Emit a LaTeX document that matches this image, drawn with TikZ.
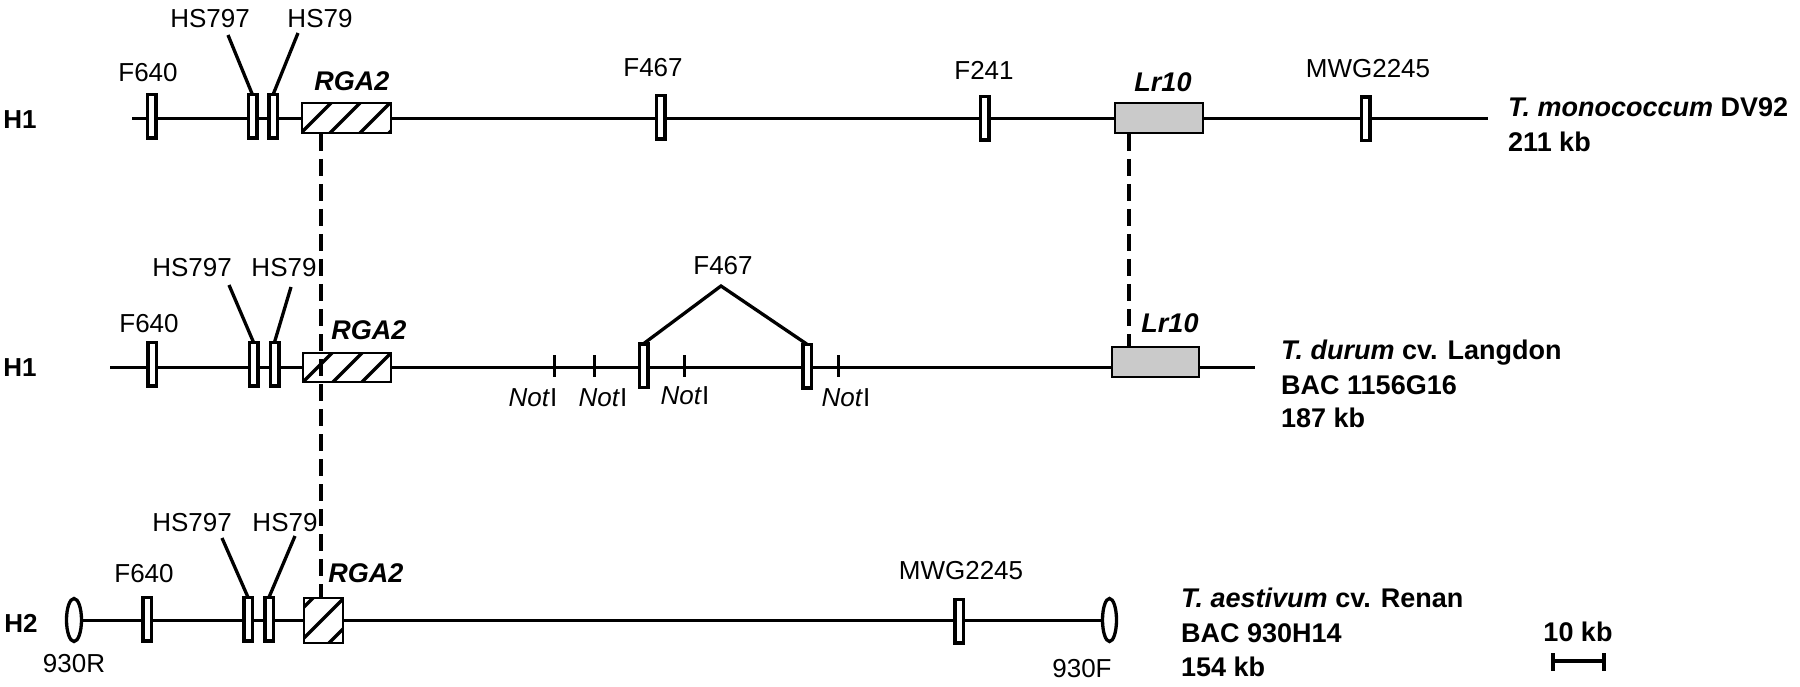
\documentclass[tikz,border=0pt]{standalone}
\usepackage{fontspec}
\setmainfont{Liberation Sans}
\usetikzlibrary{shapes.geometric}
\definecolor{lrgray}{RGB}{202,202,202}
\tikzset{
  chrom/.style={line width=3pt},
  mk/.style={draw, fill=white, line width=3.5pt, minimum width=8.5pt, minimum height=43.5pt, inner sep=0pt, outer sep=0pt},
  gene/.style={draw, line width=1.8pt, inner sep=0pt, outer sep=0pt},
  lbl/.style={font=\fontsize{26}{30}\selectfont, inner sep=0pt, text height=18.6pt, text depth=0pt},
  glbl/.style={font=\fontsize{27}{31}\selectfont\bfseries\itshape, inner sep=0pt, text height=19.3pt, text depth=0pt},
  hlbl/.style={font=\fontsize{26}{30}\selectfont\bfseries, inner sep=0pt, text height=18.6pt, text depth=0pt},
  splbl/.style={font=\fontsize{27}{31}\selectfont\bfseries, inner sep=0pt, anchor=west, text height=19.3pt, text depth=0pt},
  lead/.style={line width=3.3pt},
  notch/.style={line width=3pt},
  dsh/.style={line width=3.3pt, dash pattern=on 17pt off 8pt},
  hatchln/.style={line width=3.3pt},
  endell/.style={draw, ellipse, fill=white, line width=3.3pt, inner sep=0pt, minimum width=15pt, minimum height=43pt},
}
\begin{document}
\begin{tikzpicture}[x=1pt,y=-1pt]
\useasboundingbox (0,0) rectangle (1800,687);

% ================= Row 1 =================
\coordinate (r1s) at (132,119);
\coordinate (r1e) at (1488,119);
\draw[chrom] (r1s) -- (r1e);
\node[mk] (a640) at (151.5,116.5) {};
\node[mk] (a797) at (252.5,116.5) {};
\node[mk] (a79) at (273,116.5) {};
\node[mk] (a467) at (660.5,117.5) {};
\node[mk] (a241) at (984.5,118.5) {};
\node[mk] (amwg) at (1365.5,119) {};
\node[gene, fill=white, minimum width=89.5pt, minimum height=30.5pt] (argA) at (346.5,118) {};
\begin{scope}
  \clip (argA.south west) rectangle (argA.north east);
  \foreach \c in {404,434,463,493,522} {\draw[hatchln] ({\c-140},140) -- ({\c-96},96);}
\end{scope}
\draw[line width=1.8pt] (argA.south west) rectangle (argA.north east);
\node[gene, fill=lrgray, minimum width=88.5pt, minimum height=30.5pt] (alr) at (1159,118) {};

\node[hlbl] (h1a) at (20,119) {H1};
\node[lbl] (tF640a) at (148,72) {F640};
\node[lbl] (tHS797a) at (210,18) {HS797};
\node[lbl] (tHS79a) at (320,18) {HS79};
\node[glbl] (tRGAa) at (352,81) {RGA2};
\node[lbl] (tF467a) at (653,67) {F467};
\node[lbl] (tF241a) at (984,70) {F241};
\node[glbl] (tLra) at (1163,82) {Lr10};
\node[lbl] (tMWGa) at (1368,68) {MWG2245};
\coordinate (l797a) at (228,35);
\coordinate (l79a) at (298,33);
\draw[lead] (a797.north) -- (l797a);
\draw[lead] (a79.north) -- (l79a);
\node[splbl] (spa1) at (1508,107) {\textit{T. monococcum} DV92};
\node[splbl] (spa2) at (1508,142) {211 kb};

% ================= Row 2 =================
\coordinate (r2s) at (110,367);
\coordinate (r2e) at (1255,367);
\draw[chrom] (r2s) -- (r2e);
\foreach \x [count=\i] in {554,594,684,838} {
  \coordinate (nt\i) at (\x,355);
  \coordinate (nb\i) at (\x,377);
  \draw[notch] (nt\i) -- (nb\i);
}
\node[mk] (b640) at (152,364) {};
\node[mk] (b797) at (253.5,364) {};
\node[mk] (b79) at (274.5,364) {};
\node[mk] (b467a) at (643.5,365.5) {};
\node[mk] (b467b) at (807,366) {};
\node[gene, fill=white, minimum width=88.5pt, minimum height=29.5pt] (brg) at (347,367.5) {};
\begin{scope}
  \clip (brg.south west) rectangle (brg.north east);
  \foreach \c in {656,685,715,744,773} {\draw[hatchln] ({\c-390},390) -- ({\c-345},345);}
\end{scope}
\draw[line width=1.8pt] (brg.south west) rectangle (brg.north east);
\node[gene, fill=lrgray, minimum width=87.5pt, minimum height=30.5pt] (blr) at (1155.5,362) {};

\node[hlbl] (h1b) at (20,367) {H1};
\node[lbl] (tF640b) at (149,323) {F640};
\node[lbl] (tHS797b) at (192,267) {HS797};
\node[lbl] (tHS79b) at (284,267) {HS79};
\node[glbl] (tRGAb) at (369,330) {RGA2};
\node[lbl] (tF467b) at (723,265) {F467};
\node[glbl] (tLrb) at (1170,323) {Lr10};
\node[lbl] (not1) at (533,397) {\textit{Not}I};
\node[lbl] (not2) at (603,397) {\textit{Not}I};
\node[lbl] (not3) at (685,395) {\textit{Not}I};
\node[lbl] (not4) at (846,397) {\textit{Not}I};
\coordinate (l797b) at (229,285);
\coordinate (l79b) at (291,287);
\coordinate (apex) at (721,286);
\draw[lead] (b797.north) -- (l797b);
\draw[lead] (b79.north) -- (l79b);
\draw[lead] (b467a.north) -- (apex) -- (b467b.north);
\node[splbl] (spb1) at (1281,350) {\textit{T. durum} cv. Langdon};
\node[splbl] (spb2) at (1281,385) {BAC 1156G16};
\node[splbl] (spb3) at (1281,418) {187 kb};

% ================= Row 3 =================
\node[endell] (eL) at (74,620) {};
\node[endell, minimum width=14pt] (eR) at (1109.5,620) {};
\draw[chrom] (eL.east) -- (eR.west);
\node[mk] (c640) at (147,619) {};
\node[mk] (c797) at (248,619) {};
\node[mk] (c79) at (269,619) {};
\node[mk] (cmwg) at (959,621) {};
\node[gene, fill=white, minimum width=39.5pt, minimum height=45.5pt] (crg) at (323.5,620.5) {};
\begin{scope}
  \clip (crg.south west) rectangle (crg.north east);
  \foreach \c in {911,942,972} {\draw[hatchln] ({\c-650},650) -- ({\c-590},590);}
\end{scope}
\draw[line width=1.8pt] (crg.south west) rectangle (crg.north east);

\node[hlbl] (h2c) at (21,623) {H2};
\node[lbl] (t930R) at (74,663) {930R};
\node[lbl] (tF640c) at (144,573) {F640};
\node[lbl] (tHS797c) at (192,522) {HS797};
\node[lbl] (tHS79c) at (285,522) {HS79};
\node[glbl] (tRGAc) at (366,573) {RGA2};
\node[lbl] (tMWGc) at (961,570) {MWG2245};
\node[lbl] (t930F) at (1082,668) {930F};
\coordinate (l797c) at (222,538);
\coordinate (l79c) at (295,536);
\draw[lead] (c797.north) -- (l797c);
\draw[lead] (c79.north) -- (l79c);
\node[splbl] (spc1) at (1181,598) {\textit{T. aestivum} cv. Renan};
\node[splbl] (spc2) at (1181,633) {BAC 930H14};
\node[splbl] (spc3) at (1181,667) {154 kb};

% ================= Dashed links =================
\coordinate (dR1) at (321,134);
\coordinate (dR3) at (321,597);
\draw[dsh] (dR1) -- (dR3);
\coordinate (dL1) at (1129,134);
\coordinate (dL2) at (1129,346);
\draw[dsh] (dL1) -- (dL2);

% ================= Scale bar =================
\node[font=\fontsize{27}{31}\selectfont\bfseries, inner sep=0pt, text height=19.3pt, text depth=0pt] (tscale) at (1578,632) {10 kb};
\coordinate (sb1) at (1553,661);
\coordinate (sb2) at (1604,661);
\draw[line width=3.3pt] (sb1) -- (sb2);
\draw[line width=3.3pt] (1553,653) -- (1553,671);
\draw[line width=3.3pt] (1604,653) -- (1604,671);
\end{tikzpicture}
\end{document}
